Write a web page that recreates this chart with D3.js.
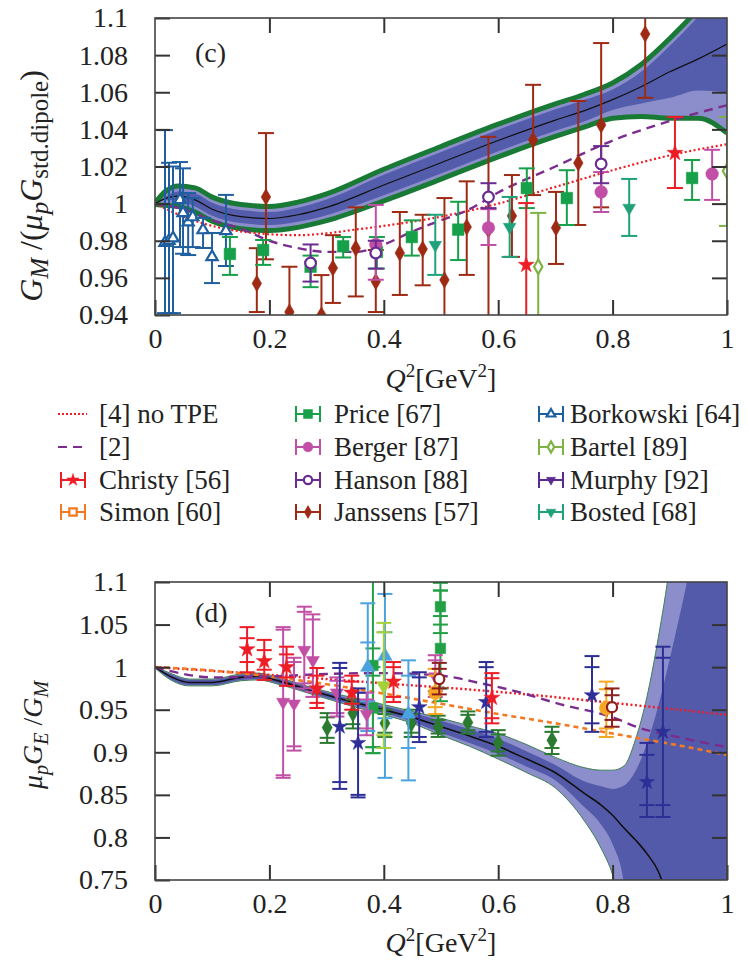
<!DOCTYPE html>
<meta charset="utf-8">
<style>
  body { margin: 0; background: #fff; }
  text { font-family: "Liberation Serif", serif; fill: #222; }
</style>
<svg width="749" height="966"></svg>
<script src="https://cdn.jsdelivr.net/npm/d3@7/dist/d3.min.js"></script>
<script>

// ---------- panel (c) : G_M / (mu_p G_dipole) ----------
var bandXC   = [0, .02, .04, .07, .1, .15, .2, .25, .3, .4, .5, .6, .7, .75, .8, .85, .9, .95, 1];
var centerC  = [1.000, 1.003, 1.004, 1.002, 0.997, 0.993, 0.992, 0.994, 0.998, 1.010, 1.022, 1.034, 1.045, 1.050, 1.056, 1.063, 1.071, 1.078, 1.086];
var envHiC   = [1.0005, 1.007, 1.0095, 1.0085, 1.0035, 0.9995, 0.9985, 1.0008, 1.0052, 1.0185, 1.0308, 1.0428, 1.0538, 1.0588, 1.065, 1.075, 1.089, 1.105, 1.125];
var envLoC   = [0.9995, 0.999, 0.9985, 0.9955, 0.9905, 0.9865, 0.9855, 0.9872, 0.9908, 1.0015, 1.0132, 1.0252, 1.0362, 1.0412, 1.046, 1.047, 1.046, 1.046, 1.038];
var darkHiC  = [1.0002, 1.004, 1.0065, 1.0055, 1.0005, 0.9965, 0.9955, 0.9978, 1.0022, 1.0155, 1.0278, 1.0398, 1.0508, 1.0558, 1.0615, 1.071, 1.085, 1.101, 1.12];
var darkLoC  = [0.9998, 1.002, 1.0015, 0.9985, 0.9935, 0.9895, 0.9885, 0.9902, 0.9938, 1.0045, 1.0162, 1.0282, 1.0392, 1.0442, 1.0505, 1.054, 1.057, 1.061, 1.060];

var noTpeXC = [0, .05, .1, .15, .2, .25, .3, .35, .4, .5, .6, .7, .8, .9, 1];
var noTpeYC = [1.0, .993, .988, .985, .9835, .983, .984, .986, .988, .993, 1.0, 1.009, 1.018, 1.026, 1.032];
var ref2XC  = [0, .05, .1, .15, .2, .25, .3, .35, .4, .45, .5, .55, .6, .7, .8, .9, 1];
var ref2YC  = [1.0, .997, .991, .9865, .980, .976, .974, .974, .978, .985, .991, .997, 1.006, 1.020, 1.034, 1.0445, 1.053];

// [Q2, value, low, high]
var borkowskiC = [[0.0175, 0.979, 0.941, 1.0396], [0.0245, 0.980, 0.941, 1.022], [0.0315, 0.9814, 0.941, 1.020],
  [0.0437, 1.002, 0.9766, 1.0224], [0.049, 0.995, 0.973, 1.019], [0.058, 0.990, 0.9723, 1.0057],
  [0.066, 0.9928, 0.9766, 1.003], [0.084, 0.9858, 0.9761, 0.9923], [0.0997, 0.9713, 0.9572, 0.9842], [0.124, 0.9853, 0.9664, 1.0047]];
var priceC = [[0.131, 0.9729, 0.9616, 0.982], [0.189, 0.975, 0.967, 0.9804], [0.272, 0.966, 0.955, 0.972], [0.329, 0.977, 0.971, 0.982],
  [0.388, 0.974, 0.965, 0.982], [0.449, 0.982, 0.972, 0.991], [0.530, 0.986, 0.9696, 1.001], [0.650, 1.0084, 0.9976, 1.019],
  [0.720, 1.003, 0.9885, 1.018], [0.939, 1.0138, 1.002, 1.0235]];
var bergerC = [[0.386, 0.978, 0.959, 0.9993], [0.583, 0.987, 0.9777, 0.997], [0.780, 1.0063, 0.9955, 1.017], [0.974, 1.016, 1.002, 1.029]];
var hansonC = [[0.272, 0.968, 0.958, 0.978], [0.386, 0.9734, 0.965, 0.980], [0.583, 1.0036, 0.9976, 1.011], [0.780, 1.0214, 1.011, 1.031]];
var janssensC = [[0.178, 0.957, 0.9416, 0.976], [0.194, 1.0036, 0.970, 1.038], [0.235, 0.9416, 0.92, 0.966], [0.291, 0.940, 0.92, 0.9615],
  [0.311, 0.9653, 0.9465, 0.983], [0.351, 0.976, 0.950, 0.998], [0.386, 0.958, 0.9416, 0.975], [0.428, 0.9734, 0.9508, 0.9955],
  [0.468, 0.9755, 0.956, 0.994], [0.506, 0.9589, 0.92, 1.003], [0.545, 0.9874, 0.9616, 1.012], [0.583, 0.986, 0.92, 1.036],
  [0.624, 0.9934, 0.9713, 1.0154], [0.661, 1.0343, 1.0046, 1.064], [0.701, 0.987, 0.9675, 1.0063], [0.740, 1.0219, 0.9885, 1.0553],
  [0.780, 1.0424, 0.998, 1.0865], [0.857, 1.0914, 1.057, 1.13]];
var christyC = [[0.649, 0.967, 0.92, 1.0003], [0.909, 1.0273, 1.0084, 1.0467]];
var bostedC = [[0.490, 0.9777, 0.9616, 0.994], [0.620, 0.9874, 0.9713, 1.0036], [0.829, 0.9977, 0.9826, 1.0133]];
var bartelC = [[0.670, 0.966, 0.92, 0.995], [1.0, 1.0176, 0.988, 1.0467]];

// ---------- panel (d) : mu_p G_E / G_M ----------
var bandXD  = [0, .03, .06, .1, .15, .18, .22, .28, .34, .4, .45, .5, .55, .6, .65, .7, .75, .78, .8, .82, .84, .86, .88, .9, .93, .96, 1];
var centerD = [1.0, .988, .982, .982, .988, .989, .983, .971, .960, .950, .941, .930, .919, .907, .892, .876, .852, .838, .826, .811, .797, .781, .760, .720, .650, .600, .550];
var lightHiD = [1.001, .992, .986, .986, .992, .993, .987, .975, .965, .956, .948, .940, .931, .922, .909, .894, .882, .879, .879, .884, .915, .965, 1.035, 1.12, 1.3, 1.4, 1.5];
var darkHiD  = [1.0005, .991, .985, .985, .991, .992, .986, .974, .963, .954, .946, .937, .927, .916, .901, .885, .866, .860, .857, .861, .878, .910, .955, 1.01, 1.10, 1.2, 1.3];
var darkLoD  = [.9995, .985, .979, .979, .985, .986, .980, .968, .957, .946, .936, .923, .911, .898, .883, .867, .836, .815, .792, .745, .60, .50, .50, .50, .50, .50, .50];
var lightLoD = [.999, .984, .978, .978, .984, .985, .979, .967, .955, .944, .934, .920, .907, .892, .876, .858, .820, .787, .756, .700, .55, .50, .50, .50, .50, .50, .50];

var noTpeXD = [0, .2, .4, .6, .8, 1];
var noTpeYD = [1.0, .991, .981, .971, .958, .944];
var ref2XD  = [0, .05, .1, .2, .3, .4, .5, .57, .64, .7, .8, .85, .9, 1];
var ref2YD  = [1.0, .992, .988, .989, .992, .993, .990, .981, .970, .958, .941, .928, .920, .906];
var orangeXD = [0, .1, .2, .3, .4, .5, .6, .7, .8, .9, 1];
var orangeYD = [1.0, .996, .989, .980, .969, .957, .945, .934, .922, .910, .897];

// [Q2, value, low, high, lowStat, highStat]
var christyD = [[0.161, 1.021, 0.994, 1.047, 1.006, 1.034], [0.191, 1.007, 0.985, 1.032, 0.997, 1.020], [0.230, 1.000, 0.978, 1.024, 0.988, 1.015],
  [0.283, 0.975, 0.952, 0.999, 0.958, 0.990], [0.344, 0.970, 0.950, 0.990, 0.957, 0.983], [0.417, 0.983, 0.959, 1.006, 0.965, 1.000],
  [0.589, 0.964, 0.934, 0.993, 0.940, 0.987]];
var pinkD = [[0.224, 0.959, 0.870, 1.047, 0.873, 1.044], [0.243, 0.957, 0.902, 1.011, 0.907, 1.006], [0.261, 1.020, 0.975, 1.071, 0.981, 1.065],
  [0.276, 1.008, 0.965, 1.062, 0.971, 1.056], [0.318, 0.970, 0.942, 0.988, 0.946, 0.984], [0.370, 0.945, 0.920, 0.970, 0.928, 0.962],
  [0.490, 0.989, 0.965, 1.014, 0.972, 1.008]];
var darkGreenD = [[0.301, 0.929, 0.911, 0.946, 0.917, 0.941], [0.346, 0.946, 0.928, 0.962, 0.933, 0.958], [0.402, 0.934, 0.918, 0.950, 0.923, 0.945],
  [0.448, 0.934, 0.918, 0.950, 0.923, 0.945], [0.495, 0.930, 0.918, 0.943, 0.922, 0.938], [0.547, 0.935, 0.922, 0.948, 0.926, 0.944],
  [0.600, 0.911, 0.896, 0.926, 0.901, 0.921], [0.694, 0.914, 0.898, 0.930, 0.905, 0.924]];
var navyD = [[0.323, 0.930, 0.857, 1.005, 0.865, 0.999], [0.355, 0.911, 0.847, 0.975, 0.850, 0.970], [0.462, 0.953, 0.912, 0.994, 0.918, 0.988],
  [0.579, 0.959, 0.918, 1.006, 0.924, 1.000], [0.764, 0.967, 0.924, 1.013, 0.934, 1.000], [0.860, 0.865, 0.824, 0.911, 0.838, 0.897],
  [0.888, 0.924, 0.824, 1.024, 0.838, 1.011]];
var lightBlueD = [[0.372, 1.000, 0.925, 1.075, 0.960, 1.029], [0.402, 1.013, 0.870, 1.086, 0.940, 1.041], [0.443, 0.945, 0.867, 1.008, 0.905, 0.990]];
var yellowGreenD = [[0.400, 0.978, 0.905, 1.052, 0.920, 1.041]];
var greenD = [[0.381, 1.002, 0.899, 1.12, 0.906, 1.022], [0.381, 0.952, 0.899, 1.0, 0.906, 0.99],
  [0.499, 1.071, 1.040, 1.099, 1.050, 1.090], [0.499, 1.022, 0.960, 1.090, 0.975, 1.060]];
var orangeD = [[0.490, 0.970, 0.945, 0.998, 0.953, 0.990], [0.789, 0.952, 0.918, 0.983, 0.928, 0.974]];
var darkRedD = [[0.497, 0.986, 0.968, 1.005, 0.975, 0.998], [0.799, 0.953, 0.930, 0.975, 0.938, 0.967]];

var xTicks = [0, 0.2, 0.4, 0.6, 0.8, 1];
var yTicksC = [0.94, 0.96, 0.98, 1, 1.02, 1.04, 1.06, 1.08, 1.1];
var yTicksD = [0.75, 0.8, 0.85, 0.9, 0.95, 1, 1.05, 1.1];

var legendCols = [
  [["[4] no TPE", "notpe"], ["[2]", "ref2"], ["Christy [56]", "christy"], ["Simon [60]", "simon"]],
  [["Price [67]", "price"], ["Berger [87]", "berger"], ["Hanson [88]", "hanson"], ["Janssens [57]", "janssens"]],
  [["Borkowski [64]", "borkowski"], ["Bartel [89]", "bartel"], ["Murphy [92]", "murphy"], ["Bosted [68]", "bosted"]]
];

var styles = {
  christy:   {color: "#ee1c25", sym: d3.symbolStar, size: 80, fill: true},
  simon:     {color: "#f47920", sym: d3.symbolSquare, size: 90, fill: false},
  price:     {color: "#17a04a", sym: d3.symbolSquare, size: 135, fill: true},
  berger:    {color: "#c24fa6", sym: d3.symbolCircle, size: 125, fill: true},
  hanson:    {color: "#6a2c91", sym: d3.symbolCircle, size: 90, fill: false},
  janssens:  {color: "#9e2a14", sym: d3.symbolDiamond, size: 80, fill: true},
  borkowski: {color: "#1f5fa0", sym: d3.symbolTriangle, size: 55, fill: false},
  bartel:    {color: "#7cb342", sym: d3.symbolDiamond, size: 60, fill: false},
  murphy:    {color: "#5b2a90", sym: d3.symbolTriangle, size: 60, fill: true, rot: 180},
  bosted:    {color: "#1fa27a", sym: d3.symbolTriangle, size: 70, fill: true, rot: 180},
  pink:      {color: "#c24fa6", sym: d3.symbolTriangle, size: 75, fill: true, rot: 180},
  dkgreen:   {color: "#2a7a30", sym: d3.symbolDiamond, size: 90, fill: true},
  navy:      {color: "#2d2f96", sym: d3.symbolStar, size: 75, fill: true},
  ltblue:    {color: "#4aa3df", sym: d3.symbolTriangle, size: 90, fill: true},
  ygreen:    {color: "#a6d03a", sym: d3.symbolTriangle, size: 90, fill: true, rot: 180},
  green2:    {color: "#23a046", sym: d3.symbolSquare, size: 110, fill: true},
  orange:    {color: "#f5a623", sym: d3.symbolCircle, size: 150, fill: true},
  dkred:     {color: "#8e1f1f", sym: d3.symbolCircle, size: 80, fill: false}
};

var svg = d3.select("svg");
var x = d3.scaleLinear().domain([0, 1]).range([155, 727]);
var yC = d3.scaleLinear().domain([0.94, 1.1]).range([315, 18]);
var yD = d3.scaleLinear().domain([0.75, 1.1]).range([880, 582]);

var defs = svg.append("defs");
defs.append("clipPath").attr("id", "clipC").append("rect").attr("x", 155).attr("y", 18).attr("width", 572).attr("height", 297);
defs.append("clipPath").attr("id", "clipD").append("rect").attr("x", 155).attr("y", 582).attr("width", 572).attr("height", 298);

function zip(xs, ys) { return xs.map(function (v, i) { return [v, ys[i]]; }); }

function band(g, y, xs, lo, hi, fill) {
  var a = d3.area().curve(d3.curveMonotoneX)
    .x(function (d) { return x(d[0]); }).y0(function (d) { return y(d[1]); }).y1(function (d) { return y(d[2]); });
  g.append("path").datum(xs.map(function (v, i) { return [v, lo[i], hi[i]]; }))
    .attr("d", a).attr("fill", fill);
}

function curve(g, y, xs, ys, color, width, dash) {
  var l = d3.line().curve(d3.curveMonotoneX).x(function (d) { return x(d[0]); }).y(function (d) { return y(d[1]); });
  g.append("path").datum(zip(xs, ys)).attr("d", l).attr("fill", "none")
    .attr("stroke", color).attr("stroke-width", width).attr("stroke-dasharray", dash || null);
}

function marker(g, st, cx, cy) {
  g.append("path").attr("d", d3.symbol(st.sym, st.size)())
    .attr("transform", "translate(" + cx + "," + cy + ")" + (st.rot ? " rotate(" + st.rot + ")" : ""))
    .attr("fill", st.fill ? st.color : "#fff").attr("stroke", st.color)
    .attr("stroke-width", st.fill ? 0.5 : 2.2);
}

function points(g, y, data, st, capW) {
  data.forEach(function (d) {
    var cx = x(d[0]);
    g.append("line").attr("x1", cx).attr("x2", cx).attr("y1", y(d[2])).attr("y2", y(d[3]))
      .attr("stroke", st.color).attr("stroke-width", 2);
    d.slice(2).forEach(function (v) {
      g.append("line").attr("x1", cx - capW / 2).attr("x2", cx + capW / 2).attr("y1", y(v)).attr("y2", y(v))
        .attr("stroke", st.color).attr("stroke-width", 2);
    });
    marker(g, st, cx, y(d[1]));
  });
}

function axes(y, top, bottom, yTicks) {
  var fmt = function (d) { return String(+d.toFixed(2)); };
  var g = svg.append("g");
  g.append("g").attr("transform", "translate(155,0)")
    .call(d3.axisLeft(y).tickValues(yTicks).tickSize(-15).tickPadding(27).tickFormat(fmt));
  g.append("g").attr("transform", "translate(727,0)")
    .call(d3.axisRight(y).tickValues(yTicks.slice(1, -1)).tickSize(-15).tickFormat(""));
  g.append("g").attr("transform", "translate(0," + bottom + ")")
    .call(d3.axisBottom(x).tickValues(xTicks).tickSize(-15).tickPadding(13).tickFormat(fmt));
  g.append("g").attr("transform", "translate(0," + top + ")")
    .call(d3.axisTop(x).tickValues(xTicks.slice(1, -1)).tickSize(-15).tickFormat(""));
  g.selectAll(".domain").remove();
  g.selectAll(".tick line").attr("stroke", "#333").attr("stroke-width", 2);
  g.selectAll(".tick text").style("font-family", "Liberation Serif, serif").style("font-size", "28px").attr("fill", "#222");
  svg.append("rect").attr("x", 155).attr("y", top).attr("width", 572).attr("height", bottom - top)
    .attr("fill", "none").attr("stroke", "#444").attr("stroke-width", 1.6);
}

function rich(g, parts, sub) {
  parts.forEach(function (p) {
    var t = g.append("tspan").text(p[0]);
    if (p[1].indexOf("i") >= 0) t.attr("font-style", "italic");
    if (p[1].indexOf("b") >= 0) t.attr("font-size", sub + "px").attr("dy", 6);
    if (p[1].indexOf("p") >= 0) t.attr("font-size", sub + "px").attr("dy", -11);
    if (p[1].indexOf("r") >= 0) t.attr("dy", p[2]);
  });
}

// ---------- draw panel (c) ----------
var gC = svg.append("g").attr("clip-path", "url(#clipC)");
band(gC, yC, bandXC, envLoC, envHiC, "#8c8ecb");
band(gC, yC, bandXC, darkLoC, darkHiC, "#545dac");
curve(gC, yC, bandXC, envHiC, "#197a35", 5);
curve(gC, yC, bandXC, envLoC, "#197a35", 5);
curve(gC, yC, bandXC, centerC, "#111", 1.2);
curve(gC, yC, noTpeXC, noTpeYC, "#ee1c25", 2.2, "2,2.5");
curve(gC, yC, ref2XC, ref2YC, "#7b2d8e", 2.4, "9,6");
points(gC, yC, janssensC, styles.janssens, 16);
points(gC, yC, bartelC, styles.bartel, 16);
points(gC, yC, borkowskiC, styles.borkowski, 16);
points(gC, yC, priceC, styles.price, 16);
points(gC, yC, bostedC, styles.bosted, 16);
points(gC, yC, bergerC, styles.berger, 16);
points(gC, yC, hansonC, styles.hanson, 16);
points(gC, yC, christyC, styles.christy, 16);
axes(yC, 18, 315, yTicksC);

// ---------- draw panel (d) ----------
var gD = svg.append("g").attr("clip-path", "url(#clipD)");
band(gD, yD, bandXD, lightLoD, lightHiD, "#8c8ecb");
band(gD, yD, bandXD, darkLoD, darkHiD, "#535aa9");
curve(gD, yD, bandXD, lightHiD, "#3f7f55", 1);
curve(gD, yD, bandXD, lightLoD, "#3f7f55", 1);
curve(gD, yD, bandXD, centerD, "#111", 1.6);
curve(gD, yD, noTpeXD, noTpeYD, "#ee1c25", 2.4, "2,2.5");
curve(gD, yD, orangeXD, orangeYD, "#f47920", 2.6, "5,4");
curve(gD, yD, ref2XD, ref2YD, "#7b2d8e", 2.4, "9,6");
points(gD, yD, darkGreenD, styles.dkgreen, 15);
points(gD, yD, greenD, styles.green2, 15);
points(gD, yD, lightBlueD, styles.ltblue, 15);
points(gD, yD, yellowGreenD, styles.ygreen, 15);
points(gD, yD, pinkD, styles.pink, 15);
points(gD, yD, navyD, styles.navy, 15);
points(gD, yD, christyD, styles.christy, 15);
points(gD, yD, orangeD, styles.orange, 15);
points(gD, yD, darkRedD, styles.dkred, 15);
axes(yD, 582, 880, yTicksD);

// ---------- labels ----------
svg.append("text").attr("x", 195).attr("y", 62).style("font-size", "28px").text("(c)");
svg.append("text").attr("x", 195).attr("y", 622).style("font-size", "28px").text("(d)");

[388, 952].forEach(function (yy) {
  var t = svg.append("text").attr("x", 441).attr("y", yy).attr("text-anchor", "middle").style("font-size", "28px");
  rich(t, [["Q", "i"], ["2", "p"], ["[GeV", "r", 11], ["2", "p"], ["]", "r", 11]], 19);
});

var tC = svg.append("text").attr("transform", "translate(42,186) rotate(-90)").attr("text-anchor", "middle").style("font-size", "32px");
rich(tC, [["G", "i"], ["M", "ib"], [" /(", "r", -6], ["μ", "i"], ["p", "ib"], ["G", "ir", -6], ["std.dipole", "b"], [")", "r", -6]], 25);
var tD = svg.append("text").attr("transform", "translate(42,735) rotate(-90)").attr("text-anchor", "middle").style("font-size", "28px");
rich(tD, [["μ", "i"], ["p", "ib"], ["G", "ir", -6], ["E", "ib"], [" /", "r", -6], ["G", "i"], ["M", "ib"]], 20);

// ---------- legend ----------
var colX = [[73, 99], [308, 334], [551, 570]];
var rowY = [414, 447, 480, 512];
legendCols.forEach(function (col, ci) {
  col.forEach(function (item, ri) {
    var g = svg.append("g").attr("transform", "translate(0," + rowY[ri] + ")");
    var sx = colX[ci][0];
    if (item[1] === "notpe") {
      g.append("line").attr("x1", sx - 15).attr("x2", sx + 14).attr("stroke", "#ee1c25").attr("stroke-width", 2).attr("stroke-dasharray", "2,2");
    } else if (item[1] === "ref2") {
      g.append("line").attr("x1", sx - 15).attr("x2", sx + 14).attr("stroke", "#7b2d8e").attr("stroke-width", 2.2).attr("stroke-dasharray", "9,6");
    } else {
      var st = styles[item[1]];
      g.append("line").attr("x1", sx - 12).attr("x2", sx + 12).attr("stroke", st.color).attr("stroke-width", 2);
      [-12, 12].forEach(function (dx) {
        g.append("line").attr("x1", sx + dx).attr("x2", sx + dx).attr("y1", -8).attr("y2", 8).attr("stroke", st.color).attr("stroke-width", 2);
      });
      marker(g, {color: st.color, sym: st.sym, size: st.size * 0.6, fill: st.fill, rot: st.rot}, sx, 0);
    }
    g.append("text").attr("x", colX[ci][1]).attr("y", 9).style("font-size", "27px").text(item[0]);
  });
});

</script>
